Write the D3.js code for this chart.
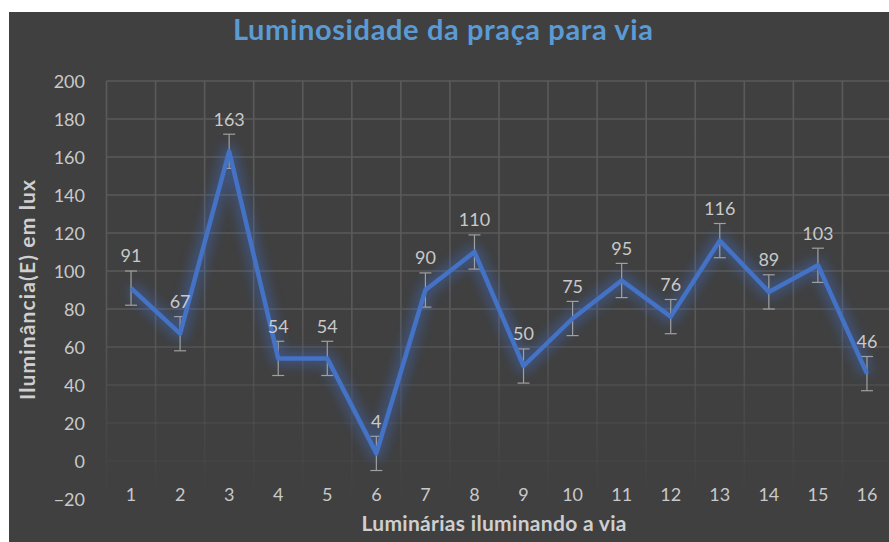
<!DOCTYPE html>
<html><head><meta charset="utf-8">
<script src="https://cdn.jsdelivr.net/npm/d3@7"></script>
<style>html,body{margin:0;padding:0;background:#fff;}svg{display:block;}</style>
</head><body>
<script>
const categories = ["1","2","3","4","5","6","7","8","9","10","11","12","13","14","15","16"];
const values = [91, 67, 163, 54, 54, 4, 90, 110, 50, 75, 95, 76, 116, 89, 103, 46];
const errors = [9, 9, 9, 9, 9, 9, 9, 9, 9, 9, 9, 9, 9, 9, 9, 9];
const yTicks = [-20, 0, 20, 40, 60, 80, 100, 120, 140, 160, 180, 200];
const title = "Luminosidade da praça para via";
const xTitle = "Luminárias iluminando a via";
const yTitle = "Iluminância(E) em lux";

const W = 889, H = 542;
const font = "Lato, 'Open Sans', sans-serif";
const svg = d3.select("body").append("svg").attr("width", W).attr("height", H);

svg.append("rect").attr("x", 9).attr("y", 12).attr("width", W - 9).attr("height", H - 12).attr("fill", "#404040");

const plot = {left: 106.5, right: 891.5, top: 81, bottom: 499};
const x = d3.scaleBand().domain(categories).range([plot.left, plot.right]);
const y = d3.scaleLinear().domain([-20, 200]).range([plot.bottom, plot.top]);

const defs = svg.append("defs");
const grad = defs.append("linearGradient").attr("id", "gridFade")
  .attr("gradientUnits", "userSpaceOnUse").attr("x1", 0).attr("y1", plot.top).attr("x2", 0).attr("y2", plot.bottom);
grad.append("stop").attr("offset", "0").attr("stop-color", "#5a5a5a").attr("stop-opacity", 1);
grad.append("stop").attr("offset", "0.55").attr("stop-color", "#5a5a5a").attr("stop-opacity", 0.95);
grad.append("stop").attr("offset", "0.8").attr("stop-color", "#5a5a5a").attr("stop-opacity", 0.35);
grad.append("stop").attr("offset", "1").attr("stop-color", "#5a5a5a").attr("stop-opacity", 0);

const glow = defs.append("filter").attr("id", "glow").attr("x", "-20%").attr("y", "-20%").attr("width", "140%").attr("height", "140%");
glow.append("feGaussianBlur").attr("stdDeviation", 6);

// gridlines
const grid = svg.append("g");
grid.selectAll("line.h").data(yTicks).join("line")
  .attr("x1", plot.left).attr("x2", plot.right)
  .attr("y1", d => y(d)).attr("y2", d => y(d))
  .attr("stroke", "url(#gridFade)").attr("stroke-width", 1.6);
const vlines = categories.map(c => x(c)).concat([x(categories[categories.length - 1]) + x.bandwidth()]);
grid.selectAll("rect.v").data(vlines).join("rect")
  .attr("x", d => d - 0.8).attr("width", 1.6)
  .attr("y", plot.top).attr("height", plot.bottom - plot.top)
  .attr("fill", "url(#gridFade)");

// y axis labels
const yAxis = d3.axisLeft(y).tickValues(yTicks).tickSize(0).tickPadding(0);
const gy = svg.append("g").attr("transform", `translate(${85},0)`).call(yAxis);
gy.select(".domain").remove();
gy.selectAll("text").attr("fill", "#c9c9c9").attr("font-family", font).attr("font-size", 18).attr("dy", "0.35em");

// x axis labels
const xAxis = d3.axisBottom(x).tickSize(0).tickPadding(0);
const gx = svg.append("g").attr("transform", `translate(0,${495})`).call(xAxis);
gx.select(".domain").remove();
gx.selectAll("text").attr("fill", "#c9c9c9").attr("font-family", font).attr("font-size", 18).attr("dy", "0.35em");

const cx = c => x(c) + x.bandwidth() / 2;
const pts = categories.map((c, i) => ({c, v: values[i], e: errors[i]}));
const line = d3.line().x(d => cx(d.c)).y(d => y(d.v));

// glow
svg.append("path").datum(pts).attr("d", line).attr("fill", "none")
  .attr("stroke", "#3f6fd0").attr("stroke-opacity", 0.4).attr("stroke-width", 14)
  .attr("stroke-linejoin", "round").attr("filter", "url(#glow)");

// error bars
const eb = svg.append("g").attr("stroke", "#a0a0a0").attr("stroke-width", 1.2);
eb.selectAll("line.stem").data(pts).join("line")
  .attr("x1", d => cx(d.c)).attr("x2", d => cx(d.c))
  .attr("y1", d => y(d.v + d.e)).attr("y2", d => y(d.v - d.e));
eb.selectAll("line.top").data(pts).join("line")
  .attr("x1", d => cx(d.c) - 6).attr("x2", d => cx(d.c) + 6)
  .attr("y1", d => y(d.v + d.e)).attr("y2", d => y(d.v + d.e));
eb.selectAll("line.bot").data(pts).join("line")
  .attr("x1", d => cx(d.c) - 6).attr("x2", d => cx(d.c) + 6)
  .attr("y1", d => y(d.v - d.e)).attr("y2", d => y(d.v - d.e));

// main line
svg.append("path").datum(pts).attr("d", line).attr("fill", "none")
  .attr("stroke", "#4472c4").attr("stroke-width", 4.5).attr("stroke-linejoin", "round");

// data labels
svg.append("g").selectAll("text").data(pts).join("text")
  .attr("x", d => cx(d.c)).attr("y", d => y(d.v) - 32).attr("dy", "0.35em")
  .attr("text-anchor", "middle").attr("fill", "#c9c9c9")
  .attr("font-family", font).attr("font-size", 18).text(d => d.v);

// titles
svg.append("text").attr("x", 443).attr("y", 40).attr("text-anchor", "middle")
  .attr("fill", "#5b9bd5").attr("font-family", font).attr("font-weight", "bold").attr("font-size", 29)
  .attr("textLength", 420).attr("lengthAdjust", "spacing")
  .text(title);
svg.append("text").attr("x", 494).attr("y", 531).attr("text-anchor", "middle")
  .attr("fill", "#cfcfcf").attr("font-family", font).attr("font-weight", "bold").attr("font-size", 21)
  .attr("textLength", 265).attr("lengthAdjust", "spacing")
  .text(xTitle);
svg.append("text").attr("transform", `translate(35,290) rotate(-90)`).attr("text-anchor", "middle")
  .attr("fill", "#cfcfcf").attr("font-family", font).attr("font-weight", "bold").attr("font-size", 21)
  .attr("textLength", 220).attr("lengthAdjust", "spacing")
  .text(yTitle);
</script>
</body></html>
